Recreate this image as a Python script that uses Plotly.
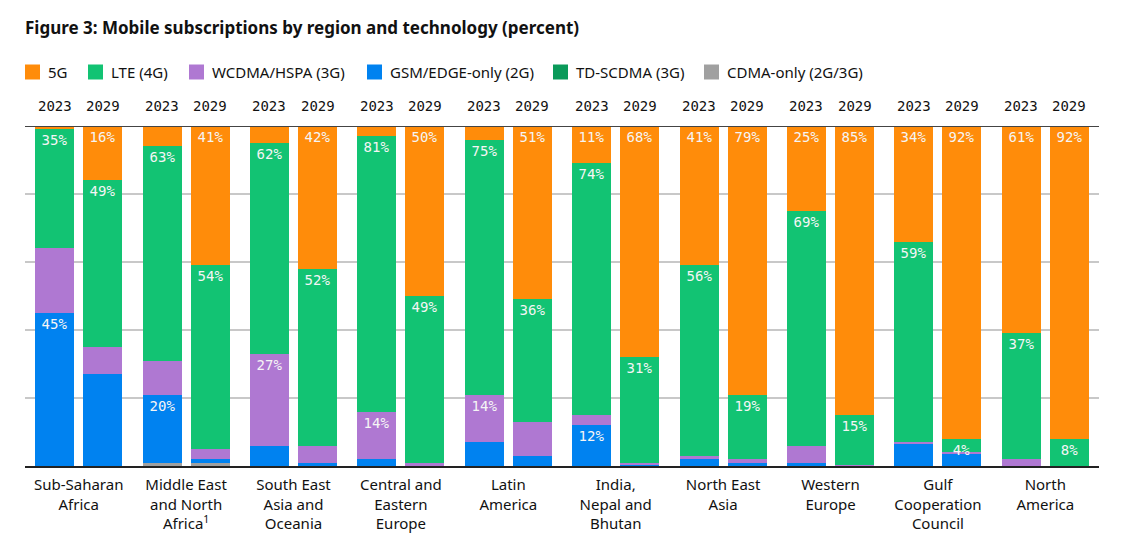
import plotly.graph_objects as go

regions = ["Sub-Saharan<br>Africa", "Middle East<br>and North<br>Africa<sup>1</sup>",
           "South East<br>Asia and<br>Oceania", "Central and<br>Eastern<br>Europe",
           "Latin<br>America", "India,<br>Nepal and<br>Bhutan", "North East<br>Asia",
           "Western<br>Europe", "Gulf<br>Cooperation<br>Council", "North<br>America"]
years = ["2023", "2029"]

tech_names = ["CDMA-only (2G/3G)", "GSM/EDGE-only (2G)", "WCDMA/HSPA (3G)",
              "TD-SCDMA (3G)", "LTE (4G)", "5G"]
legend_order = ["5G", "LTE (4G)", "WCDMA/HSPA (3G)", "GSM/EDGE-only (2G)",
                "TD-SCDMA (3G)", "CDMA-only (2G/3G)"]
colors = {"5G": "#FF8C0A", "LTE (4G)": "#12C373", "WCDMA/HSPA (3G)": "#AF78D2",
          "GSM/EDGE-only (2G)": "#0082F0", "TD-SCDMA (3G)": "#0A9A5A",
          "CDMA-only (2G/3G)": "#A0A0A0"}

# values per region (2023 list, 2029 list)
g5_2023 = [1, 6, 5, 3, 4, 11, 41, 25, 34, 61]
g5_2029 = [16, 41, 42, 50, 51, 68, 79, 85, 92, 92]
lte_2023 = [35, 63, 62, 81, 75, 74, 56, 69, 59, 37]
lte_2029 = [49, 54, 52, 49, 36, 31, 19, 14.7, 4, 8]
wcdma_2023 = [19, 10, 27, 14, 14, 3, 1, 5, 0.6, 2]
wcdma_2029 = [8, 3, 5, 1, 10, 0.5, 1, 0.3, 0.2, 0]
gsm_2023 = [45, 20, 6, 2, 7, 12, 2, 1, 6.4, 0]
gsm_2029 = [27, 1, 1, 0, 3, 0.5, 1, 0, 3.8, 0]
td_2023 = [0, 0, 0, 0, 0, 0, 0, 0, 0, 0]
td_2029 = [0, 0, 0, 0, 0, 0, 0, 0, 0, 0]
cdma_2023 = [0, 1, 0, 0, 0, 0, 0, 0, 0, 0]
cdma_2029 = [0, 1, 0, 0, 0, 0, 0, 0, 0, 0]

# which segments carry a percentage label (1 = labelled)
g5_lab_2023 = [0, 0, 0, 0, 0, 1, 1, 1, 1, 1]
g5_lab_2029 = [1, 1, 1, 1, 1, 1, 1, 1, 1, 1]
lte_lab_2023 = [1, 1, 1, 1, 1, 1, 1, 1, 1, 1]
lte_lab_2029 = [1, 1, 1, 1, 1, 1, 1, 1, 1, 1]
wcdma_lab_2023 = [0, 0, 1, 1, 1, 0, 0, 0, 0, 0]
wcdma_lab_2029 = [0] * 10
gsm_lab_2023 = [1, 1, 0, 0, 0, 1, 0, 0, 0, 0]
gsm_lab_2029 = [0] * 10
none_lab = [0] * 10

series = {
    "5G": (g5_2023, g5_2029, g5_lab_2023, g5_lab_2029),
    "LTE (4G)": (lte_2023, lte_2029, lte_lab_2023, lte_lab_2029),
    "WCDMA/HSPA (3G)": (wcdma_2023, wcdma_2029, wcdma_lab_2023, wcdma_lab_2029),
    "GSM/EDGE-only (2G)": (gsm_2023, gsm_2029, gsm_lab_2023, gsm_lab_2029),
    "TD-SCDMA (3G)": (td_2023, td_2029, none_lab, none_lab),
    "CDMA-only (2G/3G)": (cdma_2023, cdma_2029, none_lab, none_lab),
}

# ---- layout geometry (pixels) ----
W, H = 1128, 546
ML, MR, MT, MB = 25, 29, 126, 80
PW, PH = W - ML - MR, H - MT - MB


def px_x(px):
    return (px - ML) / PW


def px_y(py):
    return (H - MB - py) / PH


OFF = 0.224
WIDTH = 0.363
n = len(regions)
xs, xlab = [], []
for i in range(n):
    xs += [i - OFF, i + OFF]
    xlab += years

fig = go.Figure()
for name in tech_names:
    v23, v29, l23, l29 = series[name]
    ys, txt = [], []
    for i in range(n):
        ys += [v23[i], v29[i]]
        txt += [f"{round(v23[i])}%" if l23[i] else None,
                f"{round(v29[i])}%" if l29[i] else None]
    fig.add_trace(go.Bar(
        x=xs, y=ys, name=name, width=WIDTH, showlegend=False,
        marker=dict(color=colors[name], line=dict(width=0)),
        text=txt, textposition="inside", insidetextanchor="end",
        textfont=dict(family="DejaVu Sans Mono", size=14, color="#F5F5F5"),
        hoverinfo="skip",
    ))

# year labels above bars
for x, y in zip(xs, xlab):
    fig.add_annotation(x=x, y=1, xref="x", yref="paper", text=y, showarrow=False,
                       yanchor="bottom", yshift=10,
                       font=dict(family="DejaVu Sans Mono", size=14, color="#111"))

# legend (drawn manually to match spacing)
legend_x_px = [25, 88, 189, 367, 553, 704]
legend_y_px = 72
SQ = 15
for name, lx in zip(legend_order, legend_x_px):
    fig.add_shape(type="rect", xref="paper", yref="paper",
                  x0=px_x(lx), x1=px_x(lx + SQ),
                  y0=px_y(legend_y_px + SQ / 2), y1=px_y(legend_y_px - SQ / 2),
                  fillcolor=colors[name], line=dict(width=0))
    fig.add_annotation(x=px_x(lx + 21), y=px_y(legend_y_px), xref="paper", yref="paper",
                       text=name, showarrow=False, xanchor="left", yanchor="middle",
                       font=dict(family="Noto Sans", size=15, color="#111"))

fig.add_shape(type="line", xref="paper", yref="y", x0=0, x1=1, y0=100, y1=100,
              line=dict(color="#444", width=2), layer="above")

fig.update_layout(
    width=W, height=H,
    barmode="stack", bargap=0,
    paper_bgcolor="white", plot_bgcolor="white",
    margin=dict(l=ML, r=MR, t=MT, b=MB),
    showlegend=False,
    uniformtext=dict(minsize=14, mode="show"),
    title=dict(text="<b>Figure 3: Mobile subscriptions by region and technology (percent)</b>",
               x=0, xref="container", xanchor="left", y=1 - 28 / H, yanchor="middle",
               pad=dict(l=25),
               font=dict(family="Noto Sans", size=17, color="#111")),
    xaxis=dict(range=[-0.5, n - 0.5], tickvals=list(range(n)), ticktext=regions,
               showgrid=False, zeroline=False, showline=True, linecolor="#222",
               linewidth=2, ticks="outside", ticklen=4, tickcolor="rgba(0,0,0,0)",
               tickfont=dict(family="Noto Sans", size=15, color="#111"),
               fixedrange=True),
    yaxis=dict(range=[0, 100], showticklabels=False, showgrid=True,
               gridcolor="#C8C8C8", gridwidth=1.5, dtick=20, zeroline=False,
               fixedrange=True),
)

fig.write_html("out.html", config={"displayModeBar": False},
               post_script="document.body.style.margin='0';")
